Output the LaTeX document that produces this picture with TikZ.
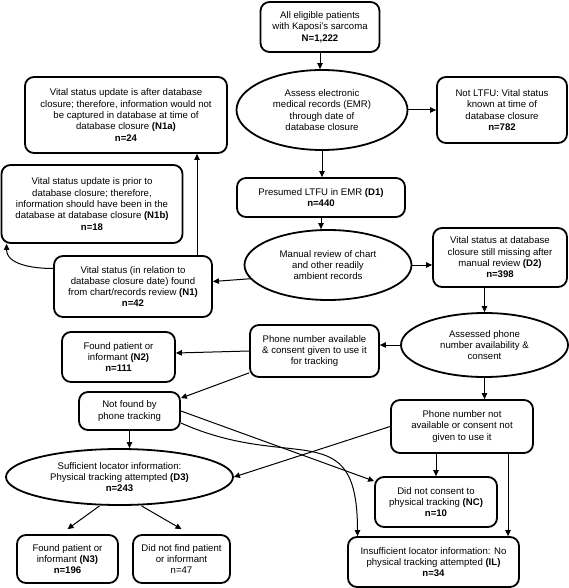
\documentclass[tikz,border=0pt]{standalone}
\usepackage{fontspec}
\setmainfont{Liberation Sans}
\usetikzlibrary{arrows.meta,shapes.geometric,positioning,calc}

\tikzset{
	rbox/.style={draw,line width=1.8pt,rounded corners=9pt,align=center,inner sep=1pt},
	oval/.style={draw,ellipse,line width=1.8pt,align=center,inner sep=0pt},
	link/.style={->,line width=1pt}
}

\begin{document}
\begin{tikzpicture}[x=1pt,y=-1pt,>={Triangle[length=6pt,width=5.5pt]},
	every node/.style={font=\fontsize{9.6}{11.3}\selectfont}]
\useasboundingbox (0,0) rectangle (569,588);

\node[rbox,minimum width=119pt,minimum height=50pt] (start) at (320,27)
	{All eligible patients\\with Kaposi's sarcoma\\\textbf{N=1,222}};
\node[oval,minimum width=171pt,minimum height=80pt] (emr) at (322,110)
	{Assess electronic\\medical records (EMR)\\through date of\\database closure};
\node[rbox,minimum width=130pt,minimum height=66pt] (notltfu) at (502,110)
	{Not LTFU: Vital status\\known at time of\\database closure\\\textbf{n=782}};
\node[rbox,minimum width=202pt,minimum height=76pt] (n1a) at (126,115)
	{Vital status update is after database\\closure; therefore, information would not\\be captured in database at time of\\database closure \textbf{(N1a)}\\\textbf{n=24}};
\node[rbox,minimum width=168pt,minimum height=39pt] (d1) at (321,197.5)
	{Presumed LTFU in EMR \textbf{(D1)}\\\textbf{n=440}};
\node[oval,minimum width=167pt,minimum height=70pt] (manual) at (328,265)
	{Manual review of chart\\and other readily\\ambient records};
\node[rbox,minimum width=134pt,minimum height=59pt] (d2) at (500,257.5)
	{Vital status at database\\closure still missing after\\manual review \textbf{(D2)}\\\textbf{n=398}};
\node[rbox,minimum width=181pt,minimum height=78pt] (n1b) at (92,204)
	{Vital status update is prior to\\database closure; therefore,\\information should have been in the\\database at database closure \textbf{(N1b)}\\\textbf{n=18}};
\node[rbox,minimum width=158pt,minimum height=61pt] (n1) at (133,286.5)
	{Vital status (in relation to\\database closure date) found\\from chart/records review \textbf{(N1)}\\\textbf{n=42}};
\node[rbox,minimum width=129pt,minimum height=52pt] (phoneyes) at (314.5,351)
	{Phone number available\\\& consent given to use it\\for tracking};
\node[oval,minimum width=167pt,minimum height=64pt] (assessed) at (484.5,345)
	{Assessed phone\\number availability \&\\consent};
\node[rbox,minimum width=142pt,minimum height=53pt] (phoneno) at (462,426.5)
	{Phone number not\\available or consent not\\given to use it};
\node[rbox,minimum width=113pt,minimum height=50pt] (n2) at (118.5,357)
	{Found patient or\\informant \textbf{(N2)}\\\textbf{n=111}};
\node[rbox,minimum width=101pt,minimum height=38pt] (notfound) at (129.5,411)
	{Not found by\\phone tracking};
\node[oval,minimum width=227pt,minimum height=56pt] (d3) at (119.5,477)
	{Sufficient locator information:\\Physical tracking attempted \textbf{(D3)}\\\textbf{n=243}};
\node[rbox,minimum width=101pt,minimum height=48pt] (n3) at (67.5,559)
	{Found patient or\\informant \textbf{(N3)}\\\textbf{n=196}};
\node[rbox,minimum width=97pt,minimum height=48pt] (notfind) at (181.5,559)
	{Did not find patient\\or informant\\n=47};
\node[rbox,minimum width=122pt,minimum height=50pt] (nc) at (436,502)
	{Did not consent to\\physical tracking \textbf{(NC)}\\\textbf{n=10}};
\node[rbox,minimum width=171pt,minimum height=50pt] (il) at (433.5,562)
	{Insufficient locator information: No\\physical tracking attempted \textbf{(IL)}\\\textbf{n=34}};

\draw[link] (start.south) -- (start.south |- emr.north);
\draw[link] (emr.east) -- (notltfu.west);
\draw[link] (emr.south) -- (emr.south |- d1.north);
\draw[link] (d1.south) -- (d1.south |- manual.north);
\draw[link] (manual.east) -- (manual.east -| d2.west);
\draw[link] (manual.190) -- ([yshift=5pt]n1.east);
\draw[link] ([xshift=64pt]n1.north) -- ([xshift=64pt]n1.north |- n1a.south);
\draw[link] ([yshift=18pt]n1.west) to[out=180,in=-90] ([xshift=6pt]n1b.south west);
\draw[link] (assessed.north |- d2.south) -- (assessed.north);
\draw[link] (assessed.west) -- (assessed.west -| phoneyes.east);
\draw[link] (assessed.south) -- (assessed.south |- phoneno.north);
\draw[link] (phoneyes.west) -- ([yshift=4pt]n2.east);
\draw[link] ([yshift=5pt]phoneyes.south west) -- ([yshift=-7pt]notfound.north east);
\draw[link] (notfound.south) -- (notfound.south |- d3.north);
\draw[link] (notfound.east) -- ([yshift=-5pt]nc.north west);
\draw[link] ([yshift=-12pt]notfound.east) to[out=-24,in=90,looseness=1.5] ([xshift=-76pt]il.north);
\draw[link] (phoneno.west) -- (d3.east);
\draw[link] (nc.north |- phoneno.south) -- (nc.north);
\draw[link] ([xshift=46pt]phoneno.south) -- ([xshift=46pt]phoneno.south |- il.north);
\draw[link] ([xshift=-20pt]d3.south) -- ([yshift=5pt]n3.north);
\draw[link] ([xshift=22pt]d3.south) -- ([yshift=5pt]notfind.north);
\end{tikzpicture}
\end{document}
